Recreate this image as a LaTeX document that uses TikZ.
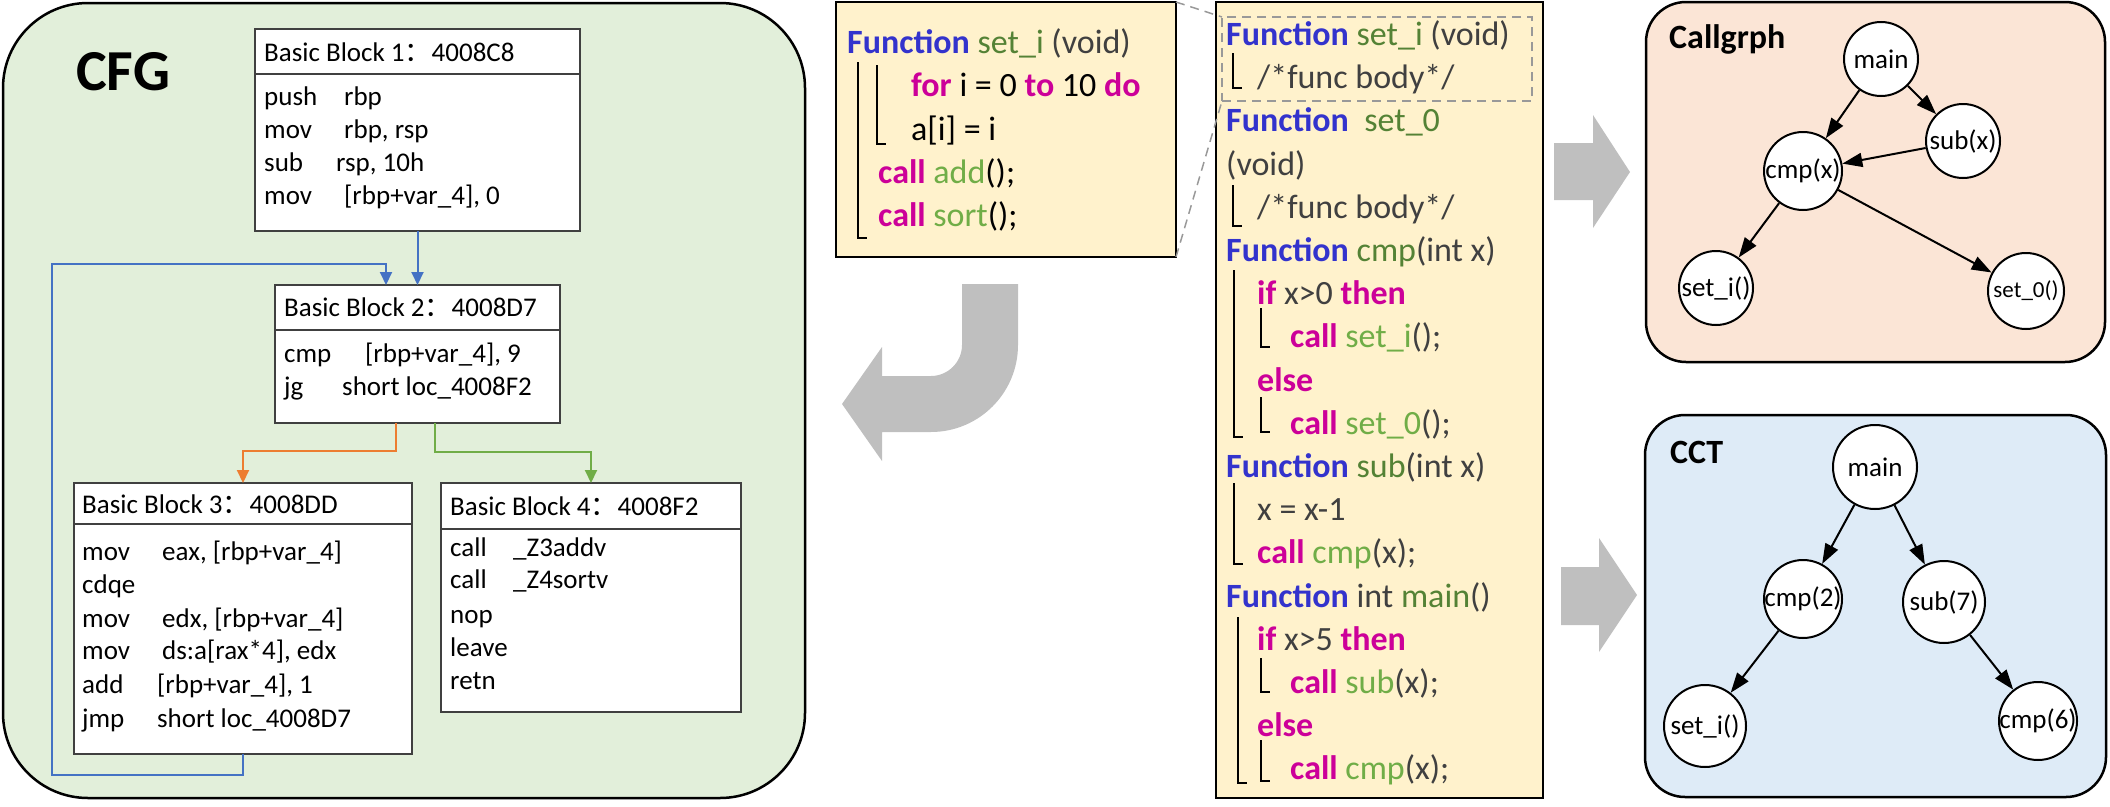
\documentclass[tikz,border=0pt]{standalone}
\usepackage{fontspec}
\setmainfont{Carlito}
\newfontfamily\cjk{Noto Sans CJK SC}
\usetikzlibrary{arrows.meta,calc}
\definecolor{cfgbg}{HTML}{E2EFDA}
\definecolor{cgbg}{HTML}{FBE5D6}
\definecolor{cctbg}{HTML}{DEEBF7}
\definecolor{codebg}{HTML}{FFF2CC}
\definecolor{fnblue}{HTML}{3333CC}
\definecolor{kwmag}{HTML}{CC0099}
\definecolor{dgreen}{HTML}{548235}
\definecolor{lgreen}{HTML}{70AD47}
\definecolor{dgray}{HTML}{404040}
\definecolor{arrgray}{HTML}{BFBFBF}
\definecolor{cfgblue}{HTML}{4472C4}
\definecolor{cfgorange}{HTML}{ED7D31}
\definecolor{cfggreen}{HTML}{70AD47}
\newcommand\Fn{{\bfseries\color{fnblue}Function}}
\newcommand\kwd[1]{{\bfseries\color{kwmag}#1}}
\newcommand\fnname[1]{{\color{dgreen}#1}}
\newcommand\callname[1]{{\color{lgreen}#1}}
\newcommand\cln{{\cjk ：}}
\tikzset{
  panel/.style={draw=black, line width=2.5pt, anchor=north west, inner sep=0pt, outer sep=0pt},
  bbox/.style={draw=black!75, line width=1.5pt, fill=white, anchor=north west, inner sep=0pt, outer sep=0pt},
  bsep/.style={draw=black!75, line width=1.5pt},
  bbt/.style={anchor=base west, inner sep=0pt, font=\fontsize{27}{33}\selectfont},
  codebox/.style={draw=black, line width=2.5pt, fill=codebg, anchor=north west, inner sep=0pt, outer sep=0pt},
  codet/.style={anchor=base west, inner sep=0pt, font=\fontsize{34}{43}\selectfont},
  brk/.style={line width=1.5pt, black},
  gnode/.style={circle, draw=black, line width=2pt, fill=white, inner sep=0pt},
  gtext/.style={inner sep=0pt, font=\fontsize{27}{30}\selectfont},
  gedge/.style={line width=2pt, -{Triangle[length=20pt,width=14pt]}},
  cfgarr/.style={line width=2pt, -{Triangle[length=13pt,width=12pt]}},
  ptitle/.style={anchor=base west, inner sep=0pt, font=\fontsize{34}{36}\selectfont\bfseries},
  zoomline/.style={draw=black!40, dashed, dash pattern=on 9pt off 6pt, line width=1.5pt},
}
\begin{document}
\begin{tikzpicture}[x=1pt,y=-1pt]
\useasboundingbox (0,0) rectangle (2110,806);

% ---------------- CFG panel ----------------
\node[panel, fill=cfgbg, rounded corners=85pt, minimum width=802, minimum height=795] (cfg) at (3,3) {};
\node[anchor=base west, inner sep=0pt, font=\fontsize{58}{60}\selectfont\bfseries] (cfgT) at (76,90) {CFG};

\node[bbox, minimum width=325, minimum height=202] (bb1) at (255,29) {};
\draw[bsep] (bb1.north west) ++(0,45) -- ++(325,0);
\node[bbt] (bb1t) at (264,61) {Basic Block 1\cln 4008C8};
\node[bbt] (bb1a) at (264,105) {\makebox[80pt][l]{push}rbp};
\node[bbt] (bb1b) at (264,138) {\makebox[80pt][l]{mov}rbp, rsp};
\node[bbt] (bb1c) at (264,171) {\makebox[72pt][l]{sub}rsp, 10h};
\node[bbt] (bb1d) at (264,204) {\makebox[80pt][l]{mov}[rbp+var\_4], 0};

\node[bbox, minimum width=285, minimum height=138] (bb2) at (275,285) {};
\draw[bsep] (bb2.north west) ++(0,45) -- ++(285,0);
\node[bbt] (bb2t) at (284,316) {Basic Block 2\cln 4008D7};
\node[bbt] (bb2a) at (284,362) {\makebox[81pt][l]{cmp}[rbp+var\_4], 9};
\node[bbt] (bb2b) at (284,395) {\makebox[58pt][l]{jg}short loc\_4008F2};

\node[bbox, minimum width=338, minimum height=271] (bb3) at (74,483) {};
\draw[bsep] (bb3.north west) ++(0,41) -- ++(338,0);
\node[bbt] (bb3t) at (82,513) {Basic Block 3\cln 4008DD};
\node[bbt] (bb3a) at (82,560) {\makebox[80pt][l]{mov}eax, [rbp+var\_4]};
\node[bbt] (bb3b) at (82,593) {cdqe};
\node[bbt] (bb3c) at (82,627) {\makebox[80pt][l]{mov}edx, [rbp+var\_4]};
\node[bbt] (bb3d) at (82,659) {\makebox[80pt][l]{mov}ds:a[rax*4], edx};
\node[bbt] (bb3e) at (82,693) {\makebox[75pt][l]{add}[rbp+var\_4], 1};
\node[bbt] (bb3f) at (82,727) {\makebox[75pt][l]{jmp}short loc\_4008D7};

\node[bbox, minimum width=300, minimum height=229] (bb4) at (441,483) {};
\draw[bsep] (bb4.north west) ++(0,46) -- ++(300,0);
\node[bbt] (bb4t) at (450,515) {Basic Block 4\cln 4008F2};
\node[bbt] (bb4a) at (450,556) {\makebox[63pt][l]{call}\_Z3addv};
\node[bbt] (bb4b) at (450,588) {\makebox[63pt][l]{call}\_Z4sortv};
\node[bbt] (bb4c) at (450,623) {nop};
\node[bbt] (bb4d) at (450,656) {leave};
\node[bbt] (bb4e) at (450,689) {retn};

\draw[cfgarr, cfgblue] (bb1.south) -- (bb1.south |- bb2.north);
\coordinate (lpA) at (52,775);
\coordinate (lpB) at (52,264);
\coordinate (b2in) at (386,285);
\draw[cfgarr, cfgblue] (bb3.south) |- (lpA) -- (lpB) -| (b2in);
\coordinate (oS) at (396,423);
\draw[cfgarr, cfgorange] (oS) -- ++(0,28) -| (bb3.north);
\coordinate (gS) at (435,423);
\draw[cfgarr, cfggreen] (gS) -- ++(0,29) -| (bb4.north);

% ---------------- big grey arrows ----------------
\fill[arrgray] (962,284) -- (1018,284) -- (1018,345) .. controls (1018,393) and (979,432) .. (931,432)
  -- (882,432) -- (882,461) -- (842,404) -- (882,347) -- (882,376) -- (931,376)
  .. controls (948,376) and (962,362) .. (962,345) -- cycle;
\fill[arrgray] (1554,143) -- (1593,143) -- (1593,115) -- (1630,172) -- (1593,228) -- (1593,200) -- (1554,200) -- cycle;
\fill[arrgray] (1561,567) -- (1599,567) -- (1599,538) -- (1637,595) -- (1599,652) -- (1599,625) -- (1561,625) -- cycle;

% ---------------- code box 1 ----------------
\node[codebox, minimum width=340, minimum height=255] (code1) at (836,2) {};
\node[codet] (c1a) at (847,53) {\Fn\ \fnname{set\_i} {\color{dgray}(void)}};
\node[codet] (c1b) at (911,96) {\kwd{for} i = 0 \kwd{to} 10 \kwd{do}};
\node[codet] (c1c) at (911,140) {a[i] = i};
\node[codet] (c1d) at (878,183) {\kwd{call} \callname{add}();};
\node[codet] (c1e) at (878,226) {\kwd{call} \callname{sort}();};
\draw[brk] (858,62) -- (858,238) -- (867,238);
\draw[brk] (877,65) -- (877,144) -- (886,144);

% ---------------- code box 2 ----------------
\node[codebox, minimum width=327, minimum height=796] (code2) at (1216,2) {};
\node[draw=black!40, dashed, dash pattern=on 9pt off 6pt, line width=1.5pt, anchor=north west, inner sep=0pt, outer sep=0pt, minimum width=310, minimum height=84] (dbox) at (1222,17) {};
\draw[zoomline] (code1.north east) -- (dbox.north west);
\draw[zoomline] (code1.south east) -- (dbox.south west);
\begin{scope}[every node/.append style={text=dgray}]
\node[codet] (c2a) at (1226,45) {\Fn\ \fnname{set\_i} (void)};
\node[codet] (c2b) at (1257,88) {/*func body*/};
\node[codet] (c2c) at (1226,131) {\Fn\ \ \fnname{set\_0}};
\node[codet] (c2d) at (1226,175) {(void)};
\node[codet] (c2e) at (1257,218) {/*func body*/};
\node[codet] (c2f) at (1226,261) {\Fn\ \fnname{cmp}(int x)};
\node[codet] (c2g) at (1257,304) {\kwd{if} x>0 \kwd{then}};
\node[codet] (c2h) at (1290,347) {\kwd{call} \callname{set\_i}();};
\node[codet] (c2i) at (1257,391) {\kwd{else}};
\node[codet] (c2j) at (1290,434) {\kwd{call} \callname{set\_0}();};
\node[codet] (c2k) at (1226,477) {\Fn\ \fnname{sub}(int x)};
\node[codet] (c2l) at (1257,520) {x = x-1};
\node[codet] (c2m) at (1257,563) {\kwd{call} \callname{cmp}(x);};
\node[codet] (c2n) at (1226,607) {\Fn\ int \fnname{main}()};
\node[codet] (c2o) at (1257,650) {\kwd{if} x>5 \kwd{then}};
\node[codet] (c2p) at (1290,693) {\kwd{call} \callname{sub}(x);};
\node[codet] (c2q) at (1257,736) {\kwd{else}};
\node[codet] (c2r) at (1290,779) {\kwd{call} \callname{cmp}(x);};
\end{scope}
\draw[brk] (1233,53) -- (1233,88) -- (1242,88);
\draw[brk] (1233,185) -- (1233,226) -- (1242,226);
\draw[brk] (1234,270) -- (1234,437) -- (1243,437);
\draw[brk] (1261,308) -- (1261,347) -- (1270,347);
\draw[brk] (1261,397) -- (1261,432) -- (1270,432);
\draw[brk] (1234,483) -- (1234,564) -- (1243,564);
\draw[brk] (1238,617) -- (1238,783) -- (1247,783);
\draw[brk] (1261,658) -- (1261,692) -- (1270,692);
\draw[brk] (1261,740) -- (1261,781) -- (1270,781);

% ---------------- Callgraph ----------------
\node[panel, fill=cgbg, rounded corners=40pt, minimum width=459, minimum height=360] (cgp) at (1646,2) {};
\node[ptitle] (cgT) at (1669,48) {Callgrph};
\node[gnode, minimum size=74] (cgmain) at (1881,59) {};
\node[gnode, minimum size=74] (cgsub) at (1963,141) {};
\node[gnode, minimum size=78] (cgcmp) at (1803,171) {};
\node[gnode, minimum size=74] (cgseti) at (1716,288) {};
\node[gnode, minimum size=76] (cgset0) at (2026,291) {};
\node[gtext] (cgmainT) at (cgmain) {main};
\node[gtext] (cgsubT) at (cgsub) {sub(x)};
\node[gtext] (cgcmpT) at (cgcmp) {cmp(x)};
\node[gtext] (cgsetiT) at (cgseti) {set\_i()};
\node[gtext, font=\fontsize{23}{26}\selectfont] (cgset0T) at (cgset0) {set\_0()};
\draw[gedge] (cgmain) -- (cgcmp);
\draw[gedge] (cgmain) -- (cgsub);
\draw[gedge] (cgsub) -- (cgcmp);
\draw[gedge] (cgcmp) -- (cgseti);
\draw[gedge] (cgcmp) -- (cgset0);

% ---------------- CCT ----------------
\node[panel, fill=cctbg, rounded corners=40pt, minimum width=461, minimum height=382] (cctp) at (1645,415) {};
\node[ptitle] (cctT) at (1670,463) {CCT};
\node[gnode, minimum size=84] (ctmain) at (1875,467) {};
\node[gnode, minimum size=78] (ctcmp2) at (1803,599) {};
\node[gnode, minimum size=82] (ctsub7) at (1944,602) {};
\node[gnode, minimum size=82] (ctseti) at (1705,726) {};
\node[gnode, minimum size=78] (ctcmp6) at (2038,721) {};
\node[gtext] (ctmainT) at (ctmain) {main};
\node[gtext] (ctcmp2T) at (ctcmp2) {cmp(2)};
\node[gtext] (ctsub7T) at (ctsub7) {sub(7)};
\node[gtext] (ctsetiT) at (ctseti) {set\_i()};
\node[gtext] (ctcmp6T) at (ctcmp6) {cmp(6)};
\draw[gedge] (ctmain) -- (ctcmp2);
\draw[gedge] (ctmain) -- (ctsub7);
\draw[gedge] (ctcmp2) -- (ctseti);
\draw[gedge] (ctsub7) -- (ctcmp6);
\end{tikzpicture}
\end{document}
